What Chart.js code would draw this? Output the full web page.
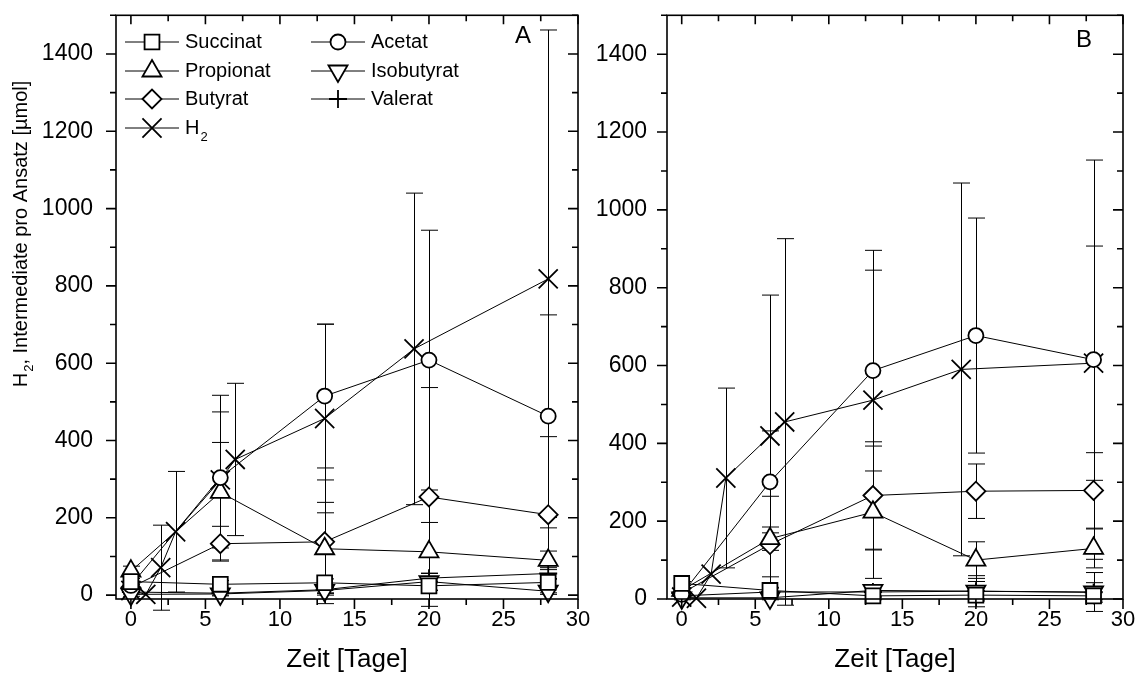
<!DOCTYPE html>
<html>
<head>
<meta charset="utf-8">
<script src="https://cdn.jsdelivr.net/npm/chart.js@4"></script>
<style>
  body { margin: 0; background: #fff; }
  canvas { position: absolute; top: 0; }
  #chartA { left: 0; }
  #chartB { left: 580px; }
</style>
</head>
<body>
<canvas id="chartA" width="600" height="682"></canvas>
<canvas id="chartB" width="564" height="682"></canvas>
<script>
// Zeitpunkte (Tage)
const xMain = [0, 6, 13, 20, 28];
const xH2 = [0, 1, 2, 3, 6, 7, 13, 19, 28];

// Achsen-Ticks
const xTicks = [0, 2.5, 5, 7.5, 10, 12.5, 15, 17.5, 20, 22.5, 25, 27.5, 30];
const yTicks = [0, 100, 200, 300, 400, 500, 600, 700, 800, 900, 1000, 1100, 1200, 1300, 1400, 1500];

// Ansatz A
const succinatA = [35, 28, 32, 24, 33];
const succinatAErr = [8, 10, 10, 12, 10];
const acetatA = [25, 304, 515, 608, 463];
const acetatAErr = [10, 213, 186, 336, 262];
const propionatA = [62, 266, 120, 112, 90];
const propionatAErr = [13, 129, 120, 76, 24];
const isobutyratA = [2, 3, 12, 35, 10];
const isobutyratAErr = [5, 5, 8, 22, 8];
const butyratA = [20, 133, 138, 254, 208];
const butyratAErr = [8, 45, 160, 283, 202];
const valeratA = [8, 5, 14, 44, 56];
const valeratAErr = [5, 5, 8, 12, 15];
const h2A = [12, 2, 71, 164, 298, 351, 457, 637, 818];
const h2AErr = [0, 0, 110, 156, 176, 197, 244, 403, 644];

// Ansatz B
const succinatB = [40, 22, 8, 10, 8];
const succinatBErr = [5, 8, 10, 10, 10];
const acetatB = [12, 301, 587, 677, 615];
const acetatBErr = [5, 131, 258, 302, 513];
const propionatB = [22, 155, 223, 100, 130];
const propionatBErr = [5, 30, 170, 47, 50];
const isobutyratB = [3, 3, 22, 20, 18];
const isobutyratBErr = [5, 5, 15, 40, 50];
const butyratB = [15, 140, 266, 277, 279];
const butyratBErr = [5, 124, 138, 70, 97];
const valeratB = [8, 18, 18, 20, 17];
const valeratBErr = [5, 10, 15, 25, 25];
const h2B = [5, 2, 64, 311, 419, 455, 511, 590, 606];
const h2BErr = [0, 0, 0, 231, 362, 471, 385, 479, 301];

const FONT = "'Liberation Sans', Arial, sans-serif";

// Symbole
const styles = {
    'Succinat':   { pointStyle: 'rect', radius: 10.5, rotation: 0 },
    'Acetat':     { pointStyle: 'circle', radius: 7.5, rotation: 0 },
    'Propionat':  { pointStyle: 'triangle', radius: 11, rotation: 0 },
    'Isobutyrat': { pointStyle: 'triangle', radius: 11, rotation: 180 },
    'Butyrat':    { pointStyle: 'rectRot', radius: 9.5, rotation: 0 },
    'Valerat':    { pointStyle: 'cross', radius: 9, rotation: 0 },
    'H2':         { pointStyle: 'crossRot', radius: 13.5, rotation: 0 }
};

function makeSet(label, key, xs, ys, errs) {
    const s = styles[key];
    return {
        label: label,
        data: xs.map((x, i) => ({ x: x, y: ys[i] })),
        errors: errs,
        borderColor: '#000',
        borderWidth: 1,
        backgroundColor: '#fff',
        pointStyle: s.pointStyle,
        pointRadius: s.radius,
        pointRotation: s.rotation,
        pointBorderWidth: 1.8,
        pointBorderColor: '#000',
        pointBackgroundColor: '#fff',
        tension: 0,
        clip: false
    };
}

// Fehlerbalken aus den Fehler-Arrays
const errorBars = {
    id: 'errorBars',
    beforeDatasetsDraw(chart) {
        const ctx = chart.ctx;
        const xs = chart.scales.x, ys = chart.scales.y;
        ctx.save();
        ctx.strokeStyle = '#000';
        ctx.lineWidth = 1;
        chart.data.datasets.forEach(ds => {
            ds.data.forEach((p, i) => {
                const e = ds.errors[i];
                if (!e) return;
                const px = Math.round(xs.getPixelForValue(p.x)) + 0.5;
                const top = ys.getPixelForValue(p.y + e);
                const bot = ys.getPixelForValue(p.y - e);
                ctx.beginPath();
                ctx.moveTo(px, top); ctx.lineTo(px, bot);
                ctx.moveTo(px - 8.5, top); ctx.lineTo(px + 8.5, top);
                ctx.moveTo(px - 8.5, bot); ctx.lineTo(px + 8.5, bot);
                ctx.stroke();
            });
        });
        ctx.restore();
    }
};

// Rahmen und Teilstriche (links/unten aussen, rechts/oben innen)
const frameTicks = {
    id: 'frameTicks',
    afterDraw(chart) {
        const ctx = chart.ctx;
        const a = chart.chartArea;
        const xs = chart.scales.x, ys = chart.scales.y;
        ctx.save();
        ctx.strokeStyle = '#000';
        ctx.lineWidth = 1.6;
        ctx.strokeRect(a.left, a.top, a.right - a.left, a.bottom - a.top);
        ctx.beginPath();
        yTicks.forEach(v => {
            const py = ys.getPixelForValue(v);
            if (py < a.top - 0.5 || py > a.bottom + 0.5) return;
            const major = v % 200 === 0;
            ctx.moveTo(a.left, py); ctx.lineTo(a.left - (major ? 10 : 6), py);
            ctx.moveTo(a.right, py); ctx.lineTo(a.right - (major ? 10 : 6), py);
        });
        xTicks.forEach(v => {
            const px = xs.getPixelForValue(v);
            const major = v % 5 === 0;
            ctx.moveTo(px, a.bottom); ctx.lineTo(px, a.bottom + (major ? 10 : 6));
            ctx.moveTo(px, a.top); ctx.lineTo(px, a.top + (major ? 9 : 6));
        });
        ctx.stroke();
        ctx.restore();
    }
};

// Panel-Buchstabe, Legende und y-Titel
const annotations = {
    id: 'annotations',
    afterDraw(chart, args, opts) {
        const ctx = chart.ctx;
        ctx.save();
        ctx.fillStyle = '#000';
        ctx.font = '24px ' + FONT;
        ctx.textAlign = 'center';
        ctx.textBaseline = 'middle';
        ctx.fillText(opts.letter, opts.letterX, opts.letterY);

        if (opts.legend) {
            const entries = [
                ['Succinat', 'Succinat', 125, 42], ['Propionat', 'Propionat', 125, 71],
                ['Butyrat', 'Butyrat', 125, 99], ['H', 'H2', 125, 128],
                ['Acetat', 'Acetat', 311, 42], ['Isobutyrat', 'Isobutyrat', 311, 71],
                ['Valerat', 'Valerat', 311, 99]
            ];
            entries.forEach(([text, key, x0, y]) => {
                const s = styles[key];
                ctx.strokeStyle = '#000';
                ctx.lineWidth = 1;
                ctx.beginPath();
                ctx.moveTo(x0, y); ctx.lineTo(x0 + 54, y);
                ctx.stroke();
                ctx.fillStyle = '#fff';
                ctx.lineWidth = 1.8;
                Chart.helpers.drawPoint(ctx, { pointStyle: s.pointStyle, radius: s.radius, rotation: s.rotation, borderWidth: 1.8 }, x0 + 27, y);
                ctx.fillStyle = '#000';
                ctx.font = '20px ' + FONT;
                ctx.textAlign = 'left';
                ctx.textBaseline = 'middle';
                ctx.fillText(text, x0 + 60, y);
                if (key === 'H2') {
                    const w = ctx.measureText(text).width;
                    ctx.font = '13px ' + FONT;
                    ctx.fillText('2', x0 + 60 + w + 1, y + 9);
                }
            });
        }

        if (opts.yTitle) {
            ctx.translate(21, 234);
            ctx.rotate(-Math.PI / 2);
            ctx.font = '20px ' + FONT;
            const wH = ctx.measureText('H').width;
            const rest = ', Intermediate pro Ansatz [µmol]';
            const wR = ctx.measureText(rest).width;
            ctx.font = '13px ' + FONT;
            const w2 = ctx.measureText('2').width + 1;
            const start = -(wH + w2 + wR) / 2;
            ctx.textAlign = 'left';
            ctx.textBaseline = 'middle';
            ctx.font = '20px ' + FONT;
            ctx.fillText('H', start, 0);
            ctx.font = '13px ' + FONT;
            ctx.fillText('2', start + wH + 1, 8);
            ctx.font = '20px ' + FONT;
            ctx.fillText(rest, start + wH + w2, 0);
        }
        ctx.restore();
    }
};

function makePanel(id, sets, yMin, yWidth, rightPad, labelPad, extra) {
    return new Chart(document.getElementById(id), {
        type: 'line',
        data: { datasets: sets },
        options: {
            responsive: false,
            animation: false,
            devicePixelRatio: 1,
            layout: { padding: { top: 12, right: rightPad, left: 0, bottom: 0 } },
            plugins: {
                legend: { display: false },
                tooltip: { enabled: false },
                annotations: extra
            },
            scales: {
                x: {
                    type: 'linear',
                    min: -1,
                    max: 30,
                    afterBuildTicks: s => { s.ticks = xTicks.map(v => ({ value: v })); },
                    afterFit: s => {
                        s.height = 83;
                        s.paddingLeft = 0;
                        s.paddingRight = 0;
                    },
                    grid: { display: false, drawTicks: false },
                    border: { display: false },
                    ticks: {
                        autoSkip: false,
                        maxRotation: 0,
                        padding: 8,
                        color: '#000',
                        font: { family: FONT, size: 22 },
                        callback: v => (v % 5 === 0 ? v : '')
                    },
                    title: {
                        display: true,
                        text: 'Zeit [Tage]',
                        color: '#000',
                        font: { family: FONT, size: 26 },
                        padding: { top: 4, bottom: 7 }
                    }
                },
                y: {
                    type: 'linear',
                    min: yMin,
                    max: 1500,
                    afterBuildTicks: s => { s.ticks = yTicks.map(v => ({ value: v })); },
                    afterFit: s => {
                        s.width = yWidth;
                        s.paddingTop = 0;
                        s.paddingBottom = 0;
                    },
                    grid: { display: false, drawTicks: false },
                    border: { display: false },
                    ticks: {
                        autoSkip: false,
                        padding: labelPad,
                        color: '#000',
                        font: { family: FONT, size: 23 },
                        callback: v => (v % 200 === 0 ? v : '')
                    }
                }
            }
        },
        plugins: [errorBars, frameTicks, annotations]
    });
}

const setsA = [
    makeSet('Succinat', 'Succinat', xMain, succinatA, succinatAErr),
    makeSet('Acetat', 'Acetat', xMain, acetatA, acetatAErr),
    makeSet('Propionat', 'Propionat', xMain, propionatA, propionatAErr),
    makeSet('Isobutyrat', 'Isobutyrat', xMain, isobutyratA, isobutyratAErr),
    makeSet('Butyrat', 'Butyrat', xMain, butyratA, butyratAErr),
    makeSet('Valerat', 'Valerat', xMain, valeratA, valeratAErr),
    makeSet('H₂', 'H2', xH2, h2A, h2AErr)
];

const setsB = [
    makeSet('Succinat', 'Succinat', xMain, succinatB, succinatBErr),
    makeSet('Acetat', 'Acetat', xMain, acetatB, acetatBErr),
    makeSet('Propionat', 'Propionat', xMain, propionatB, propionatBErr),
    makeSet('Isobutyrat', 'Isobutyrat', xMain, isobutyratB, isobutyratBErr),
    makeSet('Butyrat', 'Butyrat', xMain, butyratB, butyratBErr),
    makeSet('Valerat', 'Valerat', xMain, valeratB, valeratBErr),
    makeSet('H₂', 'H2', xH2, h2B, h2BErr)
];

makePanel('chartA', setsA, -10, 116, 22, 23, { letter: 'A', letterX: 523, letterY: 36, legend: true, yTitle: true });
makePanel('chartB', setsB, 0, 87, 21, 20, { letter: 'B', letterX: 504, letterY: 40, legend: false, yTitle: false });
</script>
</body>
</html>
